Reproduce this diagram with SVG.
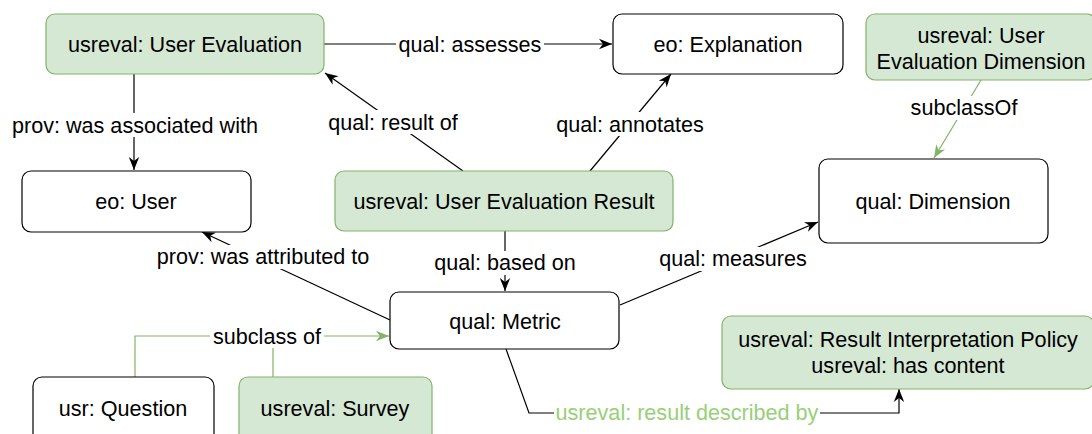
<svg xmlns="http://www.w3.org/2000/svg" width="1092" height="434" viewBox="0 0 1092 434">
<style>
text{font-family:"Liberation Sans",Arial,Helvetica,sans-serif;font-size:21.6px;fill:#000;text-anchor:middle}
.w{fill:#fff;stroke:#000;stroke-width:1.2}
.g{fill:#d5e8d4;stroke:#82b366;stroke-width:1.2}
.e{fill:none;stroke:#000;stroke-width:1.2}
.eg{fill:none;stroke:#82b366;stroke-width:1.2}
.lb{fill:#fff}
.gt{fill:#97d077}
</style>
<defs>
<marker id="a" viewBox="0 0 10 10" refX="10" refY="5" markerWidth="13" markerHeight="13" markerUnits="userSpaceOnUse" orient="auto">
<path d="M0,1 L10,5 L0,9 L3,5 z" fill="#000"/>
</marker>
<marker id="ag" viewBox="0 0 10 10" refX="10" refY="5" markerWidth="13" markerHeight="13" markerUnits="userSpaceOnUse" orient="auto">
<path d="M0,1 L10,5 L0,9 L3,5 z" fill="#82b366"/>
</marker>
</defs>
<g id="connectors">
<path class="e" d="M324,44 H612" marker-end="url(#a)"/>
<path class="e" d="M134,74 V170" marker-end="url(#a)"/>
<path class="e" d="M463,171 L325,73" marker-end="url(#a)"/>
<path class="e" d="M590,171 L671,74" marker-end="url(#a)"/>
<path class="eg" d="M981,80 L934,158" marker-end="url(#ag)"/>
<path class="e" d="M505,231 V291" marker-end="url(#a)"/>
<path class="e" d="M620,305 L818,222" marker-end="url(#a)"/>
<path class="e" d="M390,320 L202,232" marker-end="url(#a)"/>
<path class="eg" d="M135,377 V336 H389" marker-end="url(#ag)"/>
<path class="eg" d="M273,377 V336"/>
<path class="e" d="M506,349 L529,413 H899 V389" marker-end="url(#a)"/>
<rect class="lb" x="396" y="32" width="148" height="24"/>
<text x="470" y="52">qual: assesses</text>
<rect class="lb" x="10" y="113" width="250" height="24"/>
<text x="135" y="133">prov: was associated with</text>
<rect class="lb" x="327" y="110" width="133" height="24"/>
<text x="393" y="130">qual: result of</text>
<rect class="lb" x="555" y="112" width="150" height="24"/>
<text x="630" y="132">qual: annotates</text>
<rect class="lb" x="910" y="96" width="108" height="24"/>
<text x="964" y="115">subclassOf</text>
<rect class="lb" x="432" y="251" width="145" height="24"/>
<text x="505" y="270">qual: based on</text>
<rect class="lb" x="657" y="247" width="151" height="24"/>
<text x="733" y="266">qual: measures</text>
<rect class="lb" x="154" y="245" width="217" height="24"/>
<text x="263" y="264">prov: was attributed to</text>
<rect class="lb" x="210" y="324" width="114" height="24"/>
<text x="267" y="344">subclass of</text>
<rect class="lb" x="554" y="401" width="266" height="24"/>
<text class="gt" x="687" y="420">usreval: result described by</text>
</g>
<g id="n-user-evaluation">
<rect class="g" x="46" y="14" width="278" height="60" rx="9"/>
<text x="185" y="52">usreval: User Evaluation</text>
</g>
<g id="n-explanation">
<rect class="w" x="613" y="14" width="230" height="60" rx="9"/>
<text x="728" y="52">eo: Explanation</text>
</g>
<g id="n-ue-dimension">
<rect class="g" x="866" y="14" width="230" height="66" rx="9"/>
<text x="981" y="43">usreval: User</text>
<text x="981" y="69">Evaluation Dimension</text>
</g>
<g id="n-user">
<rect class="w" x="22" y="171" width="229" height="61" rx="9"/>
<text x="136" y="209">eo: User</text>
</g>
<g id="n-ue-result">
<rect class="g" x="335" y="171" width="338" height="60" rx="9"/>
<text x="504" y="209">usreval: User Evaluation Result</text>
</g>
<g id="n-dimension">
<rect class="w" x="819" y="159" width="229" height="84" rx="9"/>
<text x="933" y="209">qual: Dimension</text>
</g>
<g id="n-metric">
<rect class="w" x="390" y="292" width="229" height="57" rx="9"/>
<text x="505" y="329">qual: Metric</text>
</g>
<g id="n-policy">
<rect class="g" x="722" y="316" width="372" height="73" rx="9"/>
<text x="908" y="347">usreval: Result Interpretation Policy</text>
<text x="908" y="373">usreval: has content</text>
</g>
<g id="n-question">
<rect class="w" x="33" y="377" width="181" height="70" rx="9"/>
<text x="123" y="416">usr: Question</text>
</g>
<g id="n-survey">
<rect class="g" x="239" y="377" width="193" height="70" rx="9"/>
<text x="335" y="416">usreval: Survey</text>
</g>
</svg>
